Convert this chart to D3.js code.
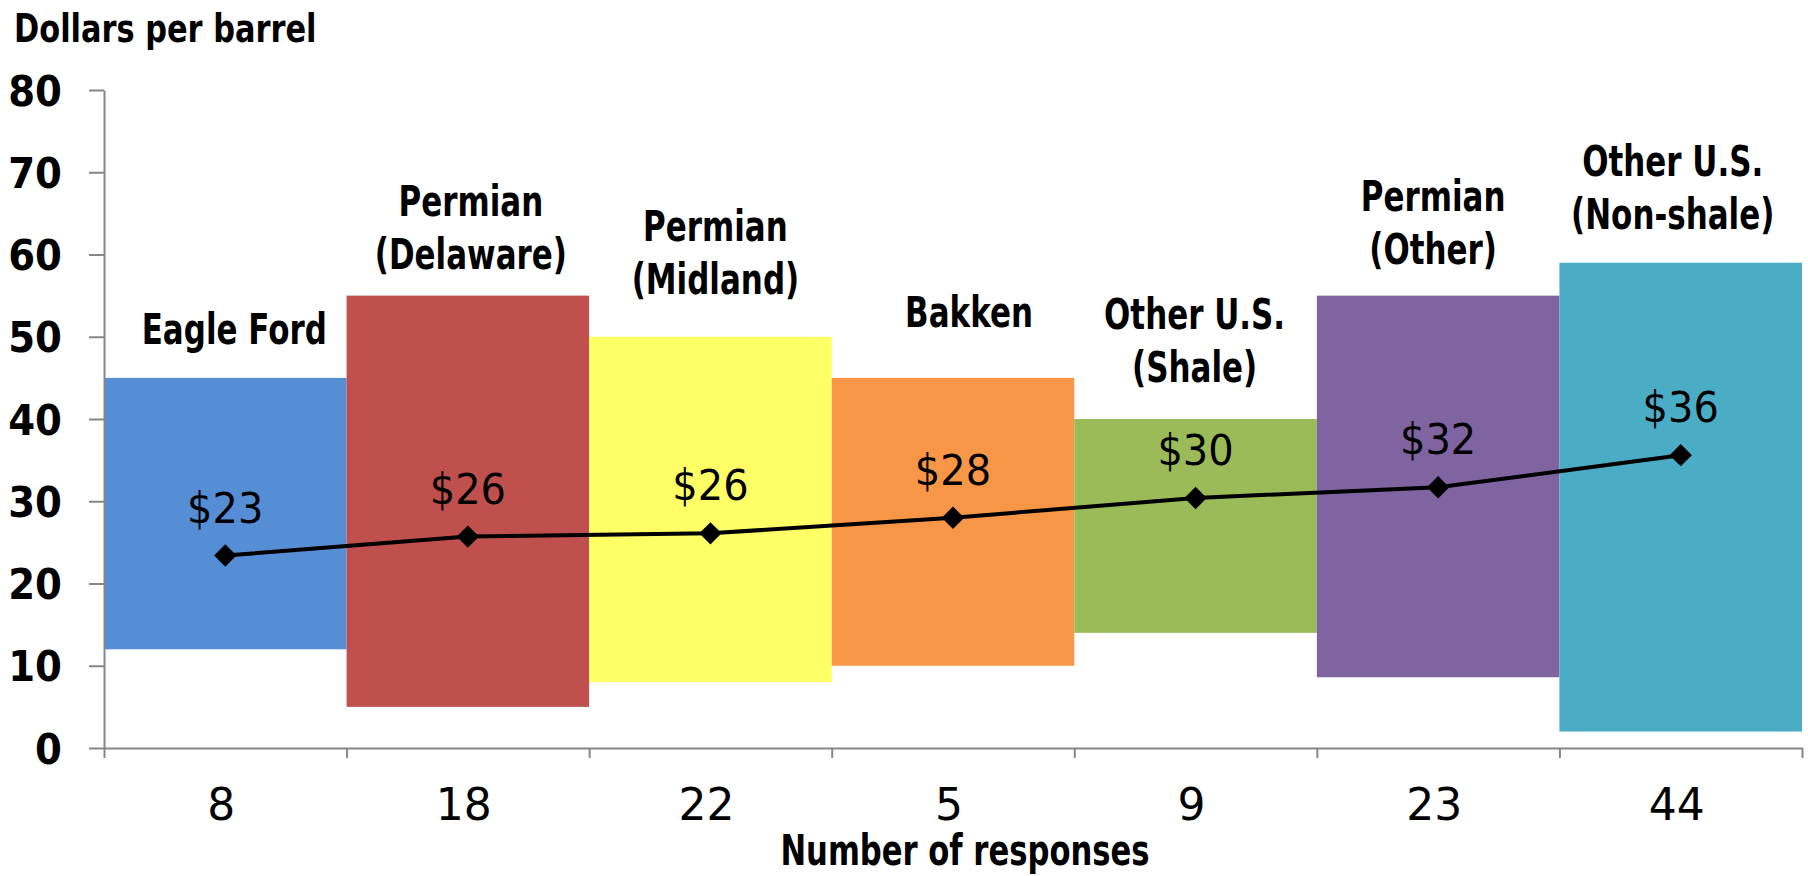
<!DOCTYPE html>
<html>
<head>
<meta charset="utf-8">
<script src="https://cdn.jsdelivr.net/npm/d3@7"></script>
<style>
  body { margin: 0; background: #fff; }
  text { font-family: "DejaVu Sans", sans-serif; fill: #000; }
</style>
</head>
<body>
<svg id="chart" width="1808" height="876"></svg>
<script>
// basins, responses, breakeven ranges and averages (dollars per barrel)
const regions = [["Eagle Ford"], ["Permian", "(Delaware)"], ["Permian", "(Midland)"], ["Bakken"],
                 ["Other U.S.", "(Shale)"], ["Permian", "(Other)"], ["Other U.S.", "(Non-shale)"]];
const responses = ["8", "18", "22", "5", "9", "23", "44"];
const low = [12, 5, 8, 10, 14, 8.6, 2];
const high = [45, 55, 50, 45, 40, 55, 59];
const average = [23.4, 25.7, 26.1, 28.0, 30.4, 31.7, 35.6];
const colors = ["#558ed5", "#c0504d", "#ffff66", "#f79646", "#9bbb59", "#8064a2", "#4bacc6"];
const yTicks = [0, 10, 20, 30, 40, 50, 60, 70, 80];

// label placement tweaks (px) - hand placed in the original
const labelGap = [34, 27, 43, 51, 37, 32, 34];
const labelDx = [9, 3, 5, 16, -1, -5, -8];

const svg = d3.select("#chart");
const margin = {left: 104, right: 6, top: 90, bottom: 128};
const W = 1808, H = 876;

const x = d3.scaleBand().domain(d3.range(regions.length))
    .range([margin.left, W - margin.right]).padding(0);
const y = d3.scaleLinear().domain([0, 80]).range([H - margin.bottom, margin.top]);

// no condensed font here, so squeeze text horizontally
function label(px, py, str, size, weight, sx, anchor) {
  return svg.append("text")
    .attr("transform", `translate(${px},${py}) scale(${sx},1)`)
    .attr("text-anchor", anchor || "middle")
    .style("font-size", size + "px")
    .style("font-weight", weight)
    .text(str);
}

// range boxes
svg.append("g").selectAll("rect")
  .data(d3.range(regions.length))
  .enter().append("rect")
    .attr("x", i => x(i))
    .attr("width", x.bandwidth())
    .attr("y", i => y(high[i]))
    .attr("height", i => y(low[i]) - y(high[i]))
    .attr("fill", i => colors[i]);

// y axis
const yAxis = svg.append("g")
    .attr("transform", `translate(${margin.left},0)`)
    .call(d3.axisLeft(y).tickValues(yTicks).tickSize(15).tickPadding(29).tickSizeOuter(0));
yAxis.select(".domain").attr("stroke", "#868686").attr("stroke-width", 2);
yAxis.selectAll(".tick line").attr("stroke", "#868686").attr("stroke-width", 2);
yAxis.selectAll(".tick text")
    .attr("x", null)
    .attr("transform", "translate(-42,0) scale(0.92,1)")
    .style("font-size", "42px").style("font-weight", "bold")
    .attr("fill", "#000").attr("dy", "0.36em");

// x axis: ticks at box edges
const xEdge = d3.scaleLinear().domain([0, regions.length]).range([margin.left, W - margin.right]);
const xAxis = svg.append("g")
    .attr("transform", `translate(0,${y(0)})`)
    .call(d3.axisBottom(xEdge).tickValues(d3.range(regions.length + 1)).tickSize(10).tickFormat("").tickSizeOuter(0));
xAxis.select(".domain").attr("stroke", "#868686").attr("stroke-width", 2);
xAxis.selectAll(".tick line").attr("stroke", "#868686").attr("stroke-width", 2);

responses.forEach((d, i) => label(x(i) + x.bandwidth() / 2 - 4, 820, d, 44, "normal", 1));

// region labels above boxes
regions.forEach((lines, i) => {
  const base = y(high[i]) - labelGap[i];
  lines.forEach((s, j) => {
    label(x(i) + x.bandwidth() / 2 + labelDx[i], base - (lines.length - 1 - j) * 53, s, 43, "bold", 0.72);
  });
});

// average line with diamonds
const cx = i => x(i) + x.bandwidth() / 2;
const line = d3.line().x((d, i) => cx(i)).y(d => y(d));
svg.append("path")
    .attr("d", line(average))
    .attr("fill", "none").attr("stroke", "#000").attr("stroke-width", 4);

svg.append("g").selectAll("path")
  .data(average)
  .enter().append("path")
    .attr("d", d3.symbol(d3.symbolSquare, 250))
    .attr("transform", (d, i) => `translate(${cx(i)},${y(d)}) rotate(45)`)
    .attr("fill", "#000");

average.forEach((d, i) => label(cx(i), y(d) - 33, "$" + Math.round(d), 43, "normal", 0.93));

// titles
label(14, 42, "Dollars per barrel", 39, "bold", 0.78, "start");
label(965, 865, "Number of responses", 42, "bold", 0.73);
</script>
</body>
</html>
